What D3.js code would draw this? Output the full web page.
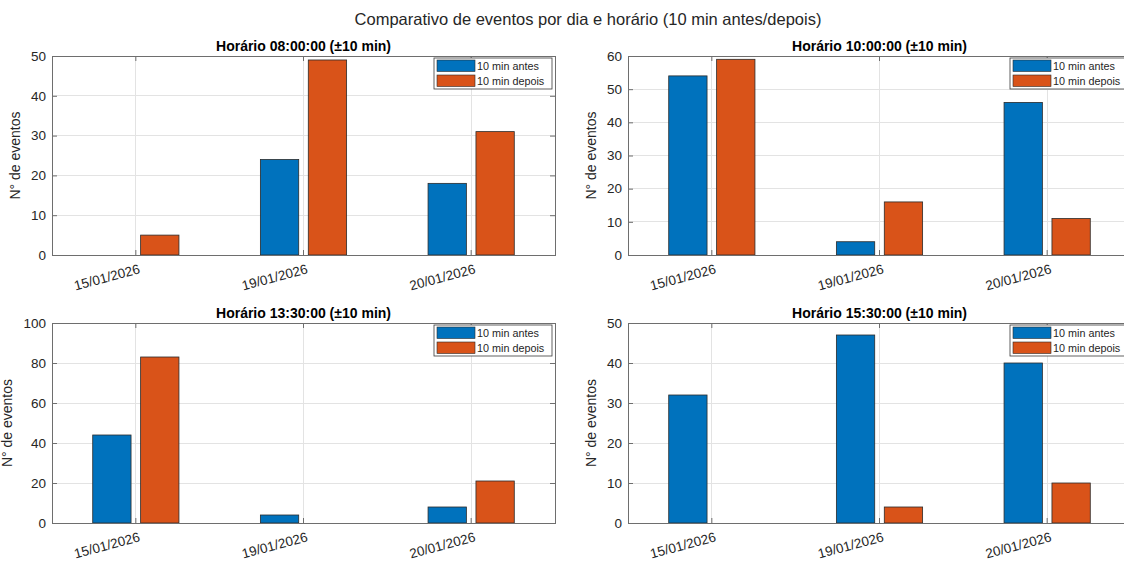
<!DOCTYPE html>
<html><head><meta charset="utf-8">
<script src="https://cdn.jsdelivr.net/npm/d3@7"></script>
<style>
body{margin:0;background:#fff}
svg{display:block;font-family:"Liberation Sans",Arial,Helvetica,sans-serif}
</style>
</head><body>
<svg id="c" width="1124" height="563"></svg>
<script>
// ---- data ----
const mainTitle = "Comparativo de eventos por dia e horário (10 min antes/depois)";
const categories = ["15/01/2026", "19/01/2026", "20/01/2026"];
const seriesNames = ["10 min antes", "10 min depois"];
const panelTitles = ["Horário 08:00:00 (±10 min)", "Horário 10:00:00 (±10 min)",
                     "Horário 13:30:00 (±10 min)", "Horário 15:30:00 (±10 min)"];
const antes0800 = [0, 24, 18];
const depois0800 = [5, 49, 31];
const antes1000 = [54, 4, 46];
const depois1000 = [59, 16, 11];
const antes1330 = [44, 4, 8];
const depois1330 = [83, 0, 21];
const antes1530 = [32, 47, 40];
const depois1530 = [0, 4, 10];
const yTicks0800 = [0, 10, 20, 30, 40, 50];
const yTicks1000 = [0, 10, 20, 30, 40, 50, 60];
const yTicks1330 = [0, 20, 40, 60, 80, 100];
const yTicks1530 = [0, 10, 20, 30, 40, 50];
const yLabel = "N° de eventos";
const colors = ["#0072BD", "#D95319"];

const panels = [
  {title: panelTitles[0], series: [antes0800, depois0800], ticks: yTicks0800},
  {title: panelTitles[1], series: [antes1000, depois1000], ticks: yTicks1000},
  {title: panelTitles[2], series: [antes1330, depois1330], ticks: yTicks1330},
  {title: panelTitles[3], series: [antes1530, depois1530], ticks: yTicks1530}
];
const boxes = [
  {x: 52, y: 56, w: 503, h: 199},
  {x: 628, y: 56, w: 503, h: 199},
  {x: 52, y: 323, w: 503, h: 200},
  {x: 628, y: 323, w: 503, h: 200}
];

const svg = d3.select("#c");
const axisColor = "#6e6e6e";
const textColor = "#262626";
const ff = '"Liberation Sans",Arial,sans-serif';

svg.append("text").attr("x", 588).attr("y", 25).attr("text-anchor", "middle")
  .attr("font-size", 16.5).attr("fill", textColor).text(mainTitle);

panels.forEach((p, pi) => {
  const b = boxes[pi];
  const g = svg.append("g").attr("transform", `translate(${b.x},${b.y})`);
  const x = d3.scaleBand().domain(categories).range([0, b.w]).paddingInner(0).paddingOuter(0);
  const bw = x.bandwidth();
  const xs = d3.scaleBand().domain(seriesNames).range([-0.2857 * bw, 0.2857 * bw])
    .paddingInner(0.2).paddingOuter(0.1);
  const y = d3.scaleLinear().domain([p.ticks[0], p.ticks[p.ticks.length - 1]]).range([b.h, 0]);

  // grid
  g.append("g").selectAll("line").data(p.ticks).join("line")
    .attr("x1", 0).attr("x2", b.w).attr("y1", d => y(d)).attr("y2", d => y(d))
    .attr("stroke", "#e3e3e3").attr("stroke-width", 1).attr("shape-rendering", "crispEdges");
  g.append("g").selectAll("line").data(categories).join("line")
    .attr("x1", d => x(d) + bw / 2).attr("x2", d => x(d) + bw / 2).attr("y1", 0).attr("y2", b.h)
    .attr("stroke", "#e3e3e3").attr("stroke-width", 1).attr("shape-rendering", "crispEdges");

  // bars
  seriesNames.forEach((s, si) => {
    g.append("g").selectAll("rect").data(p.series[si]).join("rect")
      .attr("x", (d, i) => x(categories[i]) + bw / 2 + xs(s))
      .attr("width", xs.bandwidth())
      .attr("y", d => y(d))
      .attr("height", d => y(0) - y(d))
      .attr("fill", colors[si])
      .attr("stroke", "#2b2b2b").attr("stroke-width", 0.8);
  });

  // axes
  const yl = g.append("g").call(d3.axisLeft(y).tickValues(p.ticks).tickSize(-5).tickPadding(6));
  const yr = g.append("g").attr("transform", `translate(${b.w},0)`)
    .call(d3.axisRight(y).tickValues(p.ticks).tickSize(-5).tickFormat(""));
  const xb = g.append("g").attr("transform", `translate(0,${b.h})`)
    .call(d3.axisBottom(x).tickSize(-5).tickPadding(0));
  const xt = g.append("g").call(d3.axisTop(x).tickSize(-5).tickFormat(""));
  [yl, yr, xb, xt].forEach(a => {
    a.select(".domain").remove();
    a.selectAll(".tick line").attr("stroke", axisColor);
  });
  yl.selectAll("text").attr("font-size", 13.5).attr("fill", textColor).attr("font-family", ff);
  xb.selectAll("text").attr("font-size", 13.5).attr("fill", textColor).attr("font-family", ff)
    .attr("text-anchor", "end").attr("dy", null).attr("y", 0)
    .attr("transform", "translate(5,18) rotate(-15)");
  g.append("rect").attr("x", 0).attr("y", 0).attr("width", b.w).attr("height", b.h)
    .attr("fill", "none").attr("stroke", axisColor).attr("stroke-width", 1)
    .attr("shape-rendering", "crispEdges");

  // y label
  let maxW = 0;
  yl.selectAll("text").each(function () { maxW = Math.max(maxW, this.getComputedTextLength()); });
  const lx = -6 - maxW - 11;
  g.append("text").attr("transform", `translate(${lx},${b.h / 2}) rotate(-90)`)
    .attr("text-anchor", "middle").attr("font-size", 14).attr("fill", textColor).text(yLabel);

  // title
  g.append("text").attr("x", b.w / 2).attr("y", -5).attr("text-anchor", "middle")
    .attr("font-size", 14).attr("font-weight", "bold").attr("fill", "#000").text(p.title);

  // legend
  const lw = 118, lh = 31;
  const lg = g.append("g").attr("transform", `translate(${b.w - 3 - lw},2)`);
  lg.append("rect").attr("width", lw).attr("height", lh).attr("fill", "#fff")
    .attr("stroke", "#3a3a3a").attr("stroke-width", 0.8);
  seriesNames.forEach((s, si) => {
    const yy = 2 + si * 15;
    lg.append("rect").attr("x", 3).attr("y", yy).attr("width", 38).attr("height", 11.5)
      .attr("fill", colors[si]).attr("stroke", "#2b2b2b").attr("stroke-width", 0.6);
    lg.append("text").attr("x", 43).attr("y", yy + 10).attr("font-size", 10.8)
      .attr("fill", textColor).text(s);
  });
});
</script>
</body></html>
